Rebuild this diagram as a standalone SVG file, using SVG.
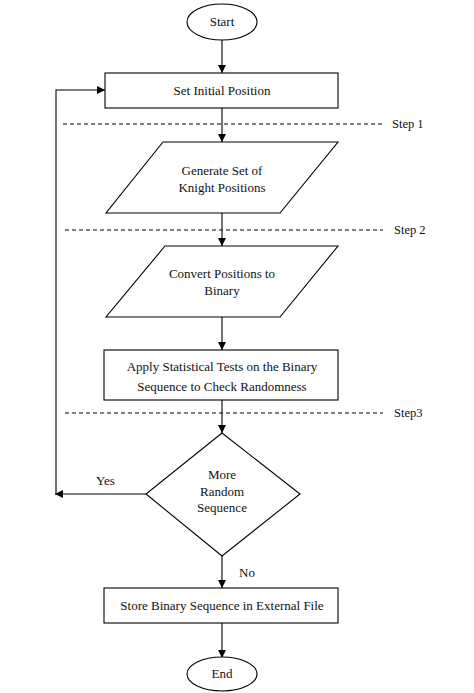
<svg xmlns="http://www.w3.org/2000/svg" width="474" height="693" viewBox="0 0 474 693">
<style>
.s{fill:#fff;stroke:#000;stroke-width:1.1}
.c{fill:none;stroke:#000;stroke-width:1.1}
.d{fill:none;stroke:#000;stroke-width:1;stroke-dasharray:4,3}
text{font-family:"Liberation Serif","Times New Roman",serif;font-size:13px;fill:#111}
.st{font-size:12.5px}
.m{text-anchor:middle}
</style>
<defs>
<marker id="ah" viewBox="0 0 10 10" refX="10" refY="5" markerWidth="8" markerHeight="8" markerUnits="userSpaceOnUse" orient="auto">
<path d="M0,0 L10,5 L0,10 z" fill="#000"/>
</marker>
</defs>
<rect width="474" height="693" fill="#fff"/>
<g id="steps">
<line class="d" x1="63" y1="124" x2="383" y2="124"/>
<text class="st" x="392" y="128">Step 1</text>
<line class="d" x1="65" y1="230" x2="383" y2="230"/>
<text class="st" x="394" y="234">Step 2</text>
<line class="d" x1="65" y1="413" x2="383" y2="413"/>
<text class="st" x="394" y="417">Step3</text>
</g>
<g id="connectors">
<line class="c" x1="222" y1="40" x2="222" y2="73" marker-end="url(#ah)"/>
<line class="c" x1="222" y1="108" x2="222" y2="142" marker-end="url(#ah)"/>
<line class="c" x1="222" y1="213" x2="222" y2="246" marker-end="url(#ah)"/>
<line class="c" x1="222" y1="317" x2="222" y2="350" marker-end="url(#ah)"/>
<line class="c" x1="222" y1="400" x2="222" y2="433" marker-end="url(#ah)"/>
<line class="c" x1="146" y1="494" x2="55" y2="494" marker-end="url(#ah)"/>
<polyline class="c" points="56,494 56,90 105,90" marker-end="url(#ah)"/>
<line class="c" x1="222" y1="556" x2="222" y2="588" marker-end="url(#ah)"/>
<line class="c" x1="222" y1="623" x2="222" y2="658" marker-end="url(#ah)"/>
<text x="96" y="485">Yes</text>
<text x="239" y="577">No</text>
</g>
<g id="start">
<ellipse class="s" cx="222" cy="22" rx="35" ry="18"/>
<text class="m" x="222" y="26">Start</text>
</g>
<g id="setInitial">
<rect class="s" x="105" y="73" width="233" height="35"/>
<text class="m" x="222" y="95">Set Initial Position</text>
</g>
<g id="generate">
<polygon class="s" points="163,142 338,142 280,213 106,213"/>
<text class="m" x="222" y="175">Generate Set of</text>
<text class="m" x="222" y="192">Knight Positions</text>
</g>
<g id="convert">
<polygon class="s" points="165,246 338,246 280,317 106,317"/>
<text class="m" x="222" y="278">Convert Positions to</text>
<text class="m" x="222" y="295">Binary</text>
</g>
<g id="apply">
<rect class="s" x="104" y="350" width="234" height="50"/>
<text class="m" x="222" y="371">Apply Statistical Tests on the Binary</text>
<text class="m" x="222" y="391">Sequence to Check Randomness</text>
</g>
<g id="decision">
<polygon class="s" points="222,433 300,494 222,556 146,494"/>
<text class="m" x="222" y="479">More</text>
<text class="m" x="222" y="496">Random</text>
<text class="m" x="222" y="512">Sequence</text>
</g>
<g id="store">
<rect class="s" x="104" y="588" width="234" height="35"/>
<text class="m" x="222" y="610">Store Binary Sequence in External File</text>
</g>
<g id="end">
<ellipse class="s" cx="222" cy="674" rx="35" ry="17"/>
<text class="m" x="222" y="678">End</text>
</g>
</svg>
